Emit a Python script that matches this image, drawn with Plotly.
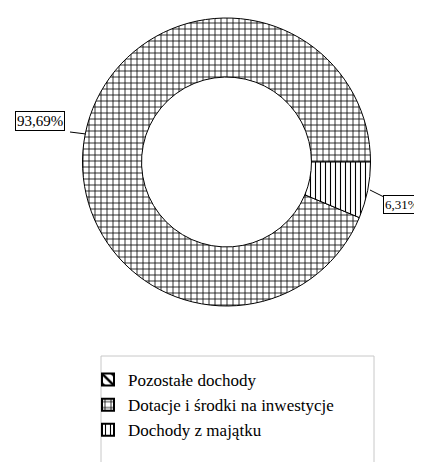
import plotly.graph_objects as go

labels = ["Pozostałe dochody", "Dotacje i środki na inwestycje", "Dochody z majątku"]
values = [0.0, 93.69, 6.31]
label_texts = ["", "93,69%", "6,31%"]
patterns = ["\\", "+", "|"]

W, H = 422, 462

def px(x):
    return x / W

def py(y):
    return 1 - y / H

FONT = "'Liberation Serif', 'DejaVu Serif', serif"

fig = go.Figure()
fig.add_trace(go.Pie(
    labels=labels,
    values=values,
    hole=0.59,
    sort=False,
    direction="counterclockwise",
    rotation=90,
    textinfo="none",
    hoverinfo="label+percent",
    domain=dict(x=[px(74), px(363)], y=[py(298), py(10)]),
    marker=dict(
        colors=["white", "white", "white"],
        line=dict(color="black", width=1),
        pattern=dict(shape=patterns, fgcolor="black", bgcolor="white",
                     size=[7, 6, 5], solidity=[0.35, 0.25, 0.22]),
    ),
    showlegend=True,
))

shapes = [
    # legend frame
    dict(type="rect", xref="paper", yref="paper",
         x0=px(93), x1=px(366), y0=py(490), y1=py(348),
         line=dict(color="#c8c8c8", width=1), fillcolor="rgba(0,0,0,0)"),
    # leader lines
    dict(type="line", xref="paper", yref="paper",
         x0=px(62), y0=py(124), x1=px(78), y1=py(126),
         line=dict(color="black", width=1)),
    dict(type="line", xref="paper", yref="paper",
         x0=px(362), y0=py(182), x1=px(376), y1=py(189),
         line=dict(color="black", width=1)),
]

annotations = [
    dict(text=label_texts[1], xref="paper", yref="paper",
         x=px(7), y=py(113), xanchor="left", yanchor="middle",
         showarrow=False, font=dict(family=FONT, size=15, color="black"),
         bordercolor="black", borderwidth=1, borderpad=1, bgcolor="white"),
    dict(text=label_texts[2], xref="paper", yref="paper",
         x=px(375), y=py(197), xanchor="left", yanchor="middle",
         showarrow=False, font=dict(family=FONT, size=13, color="black"),
         bordercolor="black", borderwidth=1, borderpad=1, bgcolor="white"),
]

fig.update_layout(
    width=W, height=H,
    margin=dict(l=0, r=0, t=0, b=0),
    paper_bgcolor="white",
    plot_bgcolor="white",
    font=dict(family=FONT, size=17, color="black"),
    shapes=shapes,
    annotations=annotations,
    legend=dict(
        x=px(80), y=py(354), xanchor="left", yanchor="top",
        bgcolor="rgba(0,0,0,0)", borderwidth=0,
        font=dict(family=FONT, size=17, color="black"),
        itemsizing="constant", tracegroupgap=0,
    ),
)

fig.write_html("out.html")
